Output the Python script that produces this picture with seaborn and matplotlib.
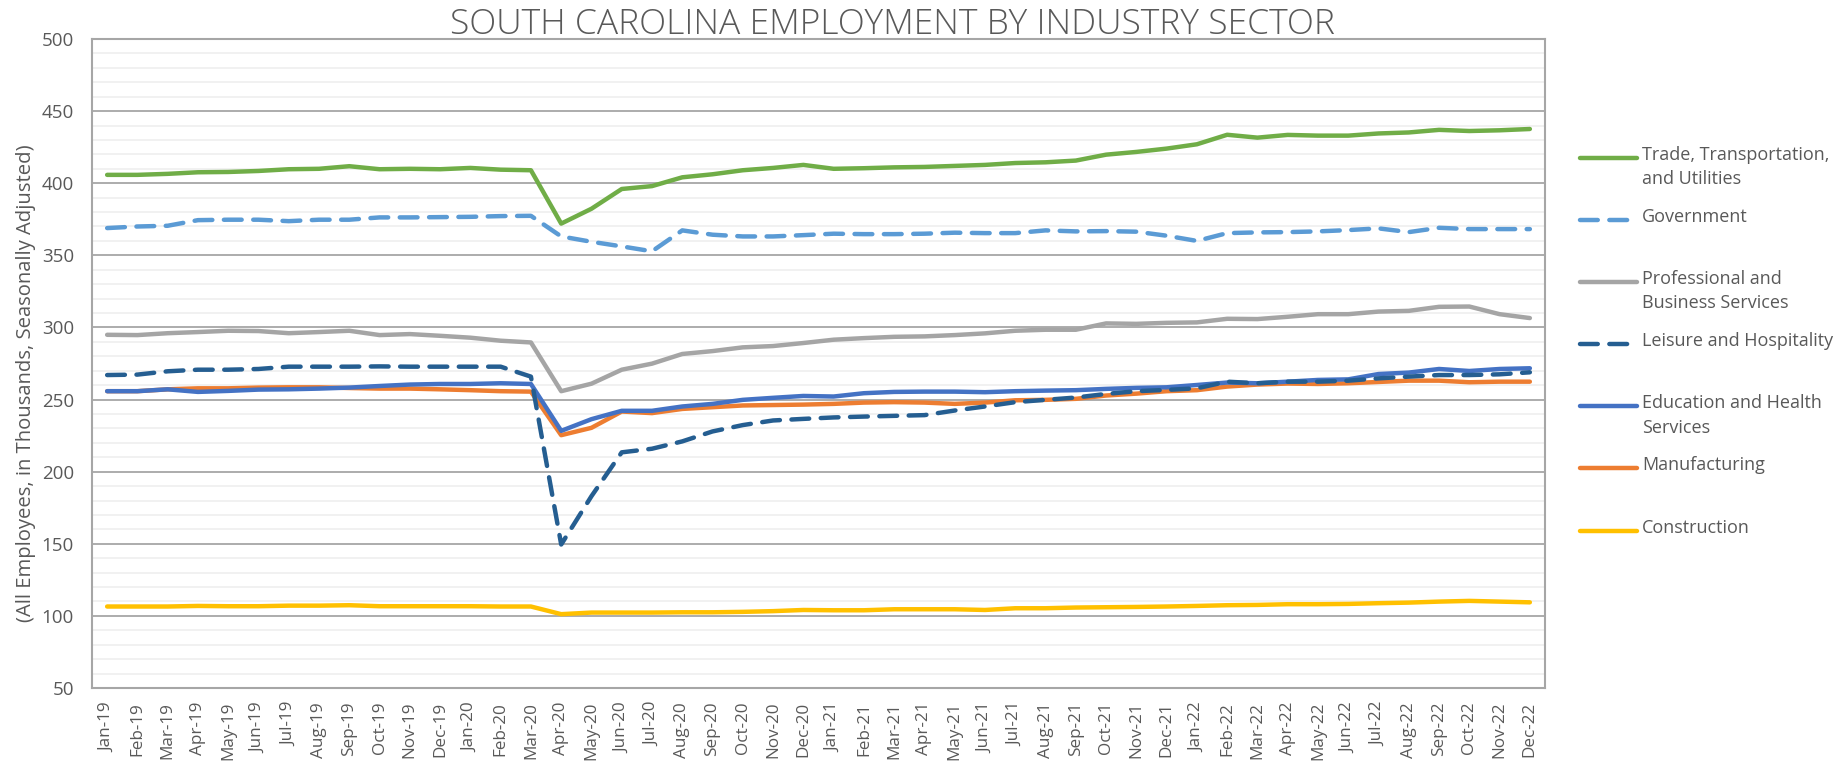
import numpy as np
import matplotlib.pyplot as plt
from matplotlib.lines import Line2D
import seaborn as sns
import pandas as pd

# months on the x axis
months = [m + "-" + y for y in ["19", "20", "21", "22"]
          for m in ["Jan", "Feb", "Mar", "Apr", "May", "Jun",
                    "Jul", "Aug", "Sep", "Oct", "Nov", "Dec"]]

# values (thousands)
trade = [405.8, 405.8, 406.5, 407.6, 407.8, 408.5, 409.7, 410.0, 411.8, 409.7, 410.0, 409.7,
         410.6, 409.4, 409.0, 372.0, 382.3, 396.0, 398.0, 404.1, 406.2, 409.0, 410.6, 412.7,
         410.0, 410.4, 411.0, 411.3, 412.0, 412.7, 414.0, 414.5, 415.7, 419.8, 421.7, 424.0,
         427.0, 433.6, 431.6, 433.5, 433.0, 433.0, 434.5, 435.2, 437.0, 436.2, 436.7, 437.6]
government = [368.9, 370.0, 370.5, 374.4, 374.7, 374.7, 373.7, 374.7, 374.7, 376.3, 376.3, 376.5,
              376.7, 377.2, 377.4, 363.1, 359.4, 356.2, 352.8, 367.3, 364.3, 363.1, 363.1, 364.0,
              365.0, 364.7, 364.7, 365.0, 365.7, 365.4, 365.4, 367.3, 366.6, 366.8, 366.4, 363.6,
              360.0, 365.4, 365.9, 366.1, 366.6, 367.5, 368.7, 366.1, 369.1, 368.2, 368.2, 368.2]
professional = [294.9, 294.7, 296.0, 296.8, 297.7, 297.5, 296.0, 296.8, 297.7, 294.7, 295.4, 294.2,
                292.9, 290.8, 289.6, 255.8, 261.0, 270.7, 274.9, 281.6, 283.6, 286.2, 287.1, 289.2,
                291.5, 292.6, 293.5, 293.8, 294.7, 295.9, 297.7, 298.4, 298.4, 302.8, 302.5, 303.2,
                303.5, 306.0, 305.8, 307.4, 309.2, 309.2, 311.0, 311.5, 314.3, 314.5, 309.2, 306.5]
leisure = [267.0, 267.3, 269.6, 270.7, 270.7, 271.2, 272.8, 272.8, 272.8, 273.0, 272.8, 272.8,
           272.8, 272.8, 265.9, 149.5, 183.0, 213.4, 215.9, 221.0, 227.9, 232.3, 235.5, 236.6,
           237.6, 238.2, 238.7, 239.2, 242.4, 245.2, 248.2, 249.8, 251.4, 253.9, 255.8, 256.7,
           257.8, 262.4, 261.3, 262.4, 262.4, 263.1, 264.7, 265.9, 267.0, 267.0, 267.5, 268.9]
education = [255.8, 255.8, 257.1, 255.3, 256.0, 256.9, 257.1, 257.6, 258.3, 259.4, 260.4, 260.8,
             260.8, 261.3, 260.8, 228.3, 236.4, 242.2, 242.2, 245.2, 247.0, 249.8, 251.2, 252.5,
             252.1, 254.4, 255.3, 255.5, 255.5, 255.1, 255.8, 256.2, 256.5, 257.4, 258.1, 258.5,
             260.1, 261.8, 261.3, 262.4, 263.6, 264.0, 267.7, 268.7, 271.2, 269.8, 271.2, 271.7]
manufacturing = [255.8, 255.8, 257.1, 257.8, 257.8, 258.3, 258.5, 258.5, 258.0, 257.6, 257.6, 257.1,
                 256.5, 255.8, 255.5, 225.3, 230.4, 241.7, 240.6, 243.5, 244.7, 245.9, 246.2, 246.5,
                 247.0, 247.9, 248.2, 247.9, 247.0, 247.9, 249.5, 249.8, 250.5, 252.8, 254.1, 255.8,
                 256.5, 259.0, 260.4, 261.1, 260.8, 261.3, 262.2, 263.1, 263.1, 262.0, 262.4, 262.4]
construction = [106.5, 106.5, 106.5, 106.9, 106.7, 106.7, 107.1, 107.1, 107.4, 106.7, 106.7, 106.7,
                106.7, 106.5, 106.5, 101.2, 102.3, 102.3, 102.3, 102.5, 102.5, 102.8, 103.3, 104.1,
                103.9, 103.9, 104.6, 104.6, 104.6, 104.1, 105.3, 105.3, 105.8, 106.0, 106.2, 106.5,
                106.9, 107.4, 107.6, 108.1, 108.1, 108.3, 108.8, 109.2, 109.9, 110.4, 109.9, 109.4]

labels = ["Trade, Transportation,\nand Utilities", "Government",
          "Professional and\nBusiness Services", "Leisure and Hospitality",
          "Education and Health\nServices", "Manufacturing", "Construction"]
series = [trade, government, professional, leisure, education, manufacturing, construction]
colors = ["#70AD47", "#5B9BD5", "#A5A5A5", "#255E91", "#4472C4", "#ED7D31", "#FFC000"]
dashed = [False, True, False, True, False, False, False]

sns.set_style("white")
plt.rcParams['font.family'] = ['Open Sans', 'DejaVu Sans']

fig = plt.figure(figsize=(18.44, 7.61), dpi=100)
ax = fig.add_axes([92/1844, 1-688/761, (1545-92)/1844, (688-39)/761])

x = np.arange(len(months))
order = [6, 5, 4, 3, 2, 1, 0]  # draw construction first so top lines stay on top
for i in order:
    ls = (0, (4, 2.6)) if dashed[i] else "-"
    sns.lineplot(x=x, y=series[i], ax=ax, color=colors[i], lw=3.2,
                 linestyle=ls, dash_capstyle="round", solid_capstyle="round", sort=False)

ax.set_xlim(-0.5, len(months) - 0.5)
ax.set_ylim(50, 500)
ax.set_yticks(np.arange(50, 501, 50))
ax.set_yticks(np.arange(50, 501, 10), minor=True)
ax.grid(which="major", axis="y", color="#A6A6A6", lw=1.3)
ax.grid(which="minor", axis="y", color="#EDEDED", lw=1.1)
ax.set_axisbelow(True)
ax.set_xticks(x)
ax.set_xticklabels(months, rotation=90, fontsize=12.3, color="#595959")
ax.tick_params(axis="y", labelsize=13.5, labelcolor="#595959", length=0, pad=13)
ax.tick_params(which="minor", length=0)
ax.tick_params(axis="x", length=0, pad=10)
for s in ax.spines.values():
    s.set_color("#A6A6A6")
    s.set_linewidth(1.5)
ax.set_ylabel("(All Employees, in Thousands, Seasonally Adjusted)", fontsize=14.6,
              color="#595959", labelpad=4)
ax.yaxis.label.set_y(0.47)

fig.text(892/1844, 1-25/761, "SOUTH CAROLINA EMPLOYMENT BY INDUSTRY SECTOR",
         ha="center", va="center", fontsize=25.5, color="#595959", family="Open Sans",
         fontweight="light")

# legend drawn by hand to keep Excel-like even spacing
for i in range(len(labels)):
    yy = 1 - (158 + 62.1 * i) / 761
    ls = (0, (4, 2.6)) if dashed[i] else "-"
    fig.add_artist(Line2D([1580/1844, 1637/1844], [yy, yy], color=colors[i], lw=3.2,
                          linestyle=ls, dash_capstyle="round", solid_capstyle="round"))
    fig.text(1642/1844, yy + 12/761, labels[i], ha="left", va="top", fontsize=13,
             color="#595959", linespacing=1.45)

fig.savefig("out.png", dpi=100)
